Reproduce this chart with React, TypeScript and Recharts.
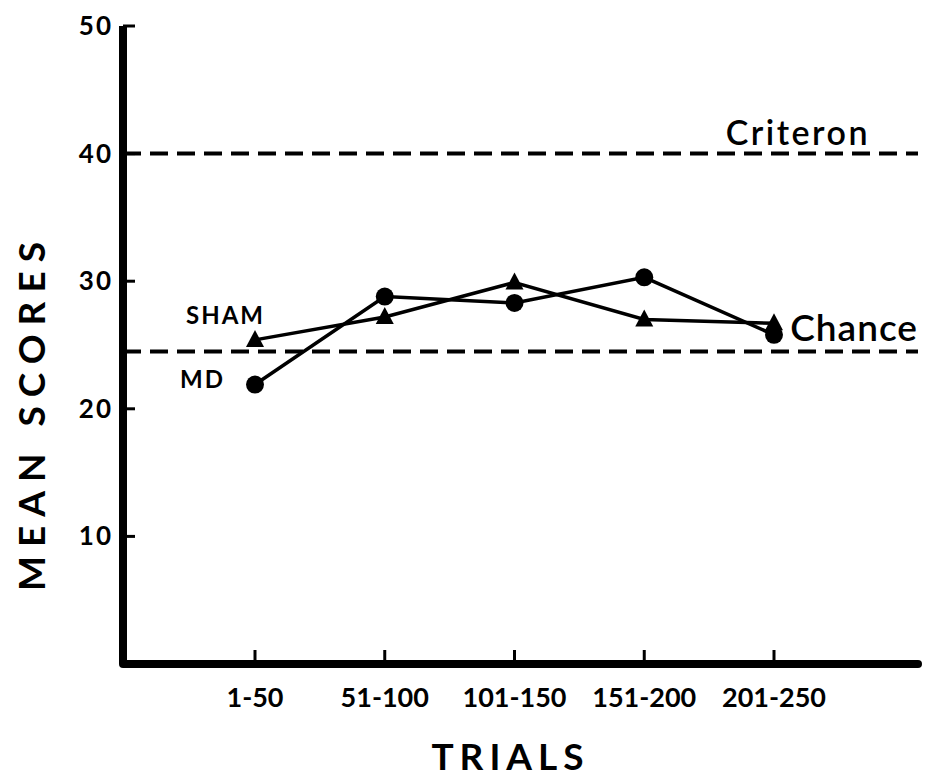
import { Line, LineChart, ReferenceLine, XAxis, YAxis } from "recharts";

const trials = ["1-50", "51-100", "101-150", "151-200", "201-250"];
const shamScores = [25.4, 27.2, 29.9, 27.0, 26.7];
const mdScores = [21.9, 28.8, 28.3, 30.3, 25.8];
const yTicks = [10, 20, 30, 40, 50];
const criterionScore = 40;
const chanceScore = 24.5;

const FONT = "Lato, 'DejaVu Sans', sans-serif";

const data = trials.map((t, i) => ({ trial: t, sham: shamScores[i], md: mdScores[i] }));

function YTick({ x, y, payload }: any) {
  return (
    <g>
      <line x1={x} x2={x + 12} y1={y} y2={y} stroke="#000" strokeWidth={3} />
      <text
        x={x - 10}
        y={y}
        dy={9}
        textAnchor="end"
        fontSize={26}
        fontWeight={700}
        letterSpacing={2}
        fontFamily={FONT}
        fill="#000"
      >
        {payload.value}
      </text>
    </g>
  );
}

function XTick({ x, y, payload }: any) {
  return (
    <g>
      <line x1={x} x2={x} y1={y} y2={y - 14} stroke="#000" strokeWidth={3} />
      <text x={x} y={y + 43} textAnchor="middle" fontSize={27} fontWeight={700} fontFamily={FONT} fill="#000">
        {payload.value}
      </text>
    </g>
  );
}

function Triangle({ cx, cy, index }: any) {
  if (cx == null || cy == null) return <g key={`t${index}`} />;
  return <polygon key={`t${index}`} points={`${cx},${cy - 10} ${cx - 9},${cy + 7} ${cx + 9},${cy + 7}`} fill="#000" />;
}

function Dot({ cx, cy, index }: any) {
  if (cx == null || cy == null) return <g key={`c${index}`} />;
  return <circle key={`c${index}`} cx={cx} cy={cy} r={9} fill="#000" />;
}

function seriesLabel(text: string, dx: number, dy: number) {
  return ({ x, y, index }: any) =>
    index === 0 ? (
      <text
        key={text}
        x={x + dx}
        y={y + dy}
        textAnchor="end"
        fontSize={24}
        fontWeight={700}
        letterSpacing={2}
        fontFamily={FONT}
        fill="#000"
      >
        {text}
      </text>
    ) : null;
}

function refLabel(text: string, size: number, spacing: number, dx: number, dy: number) {
  return ({ viewBox }: any) => (
    <text
      x={viewBox.x + viewBox.width + dx}
      y={viewBox.y + dy}
      textAnchor="end"
      fontSize={size}
      fontWeight={600}
      letterSpacing={spacing}
      fontFamily={FONT}
      fill="#000"
    >
      {text}
    </text>
  );
}

// rotated axis title, placed where the scan has it
function YTitle() {
  const x = 45;
  const y = 412;
  return (
    <text
      x={x}
      y={y}
      transform={`rotate(-90, ${x}, ${y})`}
      textAnchor="middle"
      fontSize={37}
      fontWeight={700}
      letterSpacing={9}
      fontFamily={FONT}
      fill="#000"
    >
      MEAN SCORES
    </text>
  );
}

export default function App() {
  return (
    <div style={{ position: "absolute", left: 0, top: 0, background: "#fff" }}>
      <LineChart width={926} height={777} data={data} margin={{ top: 26, right: 8, left: 63, bottom: 0 }}>
        <XAxis
          dataKey="trial"
          height={113}
          padding={{ left: 132, right: 144 }}
          axisLine={{ stroke: "#000", strokeWidth: 8, strokeLinecap: "round" }}
          tickLine={false}
          tickSize={0}
          tickMargin={0}
          tick={<XTick />}
          interval={0}
          label={{
            value: "TRIALS",
            position: "insideBottom",
            offset: 7,
            dx: -10,
            style: { fontSize: 37, fontWeight: 700, fontFamily: FONT, fill: "#000", letterSpacing: 6 },
          }}
        />
        <YAxis
          width={60}
          domain={[0, 50]}
          ticks={yTicks}
          axisLine={{ stroke: "#000", strokeWidth: 8 }}
          tickLine={false}
          tickSize={0}
          tickMargin={0}
          tick={<YTick />}
          label={<YTitle />}
        />
        <ReferenceLine
          y={criterionScore}
          stroke="#000"
          strokeWidth={4}
          strokeDasharray="18 9"
          label={refLabel("Criteron", 34, 2.5, -48, -9)}
        />
        <ReferenceLine
          y={chanceScore}
          stroke="#000"
          strokeWidth={4}
          strokeDasharray="18 9"
          label={refLabel("Chance", 37, 1, 0, -10)}
        />
        <Line
          dataKey="sham"
          stroke="#000"
          strokeWidth={3.5}
          dot={<Triangle />}
          activeDot={false}
          isAnimationActive={false}
          label={seriesLabel("SHAM", 10, -16)}
        />
        <Line
          dataKey="md"
          stroke="#000"
          strokeWidth={3.5}
          dot={<Dot />}
          activeDot={false}
          isAnimationActive={false}
          label={seriesLabel("MD", -30, 3)}
        />
      </LineChart>
    </div>
  );
}
